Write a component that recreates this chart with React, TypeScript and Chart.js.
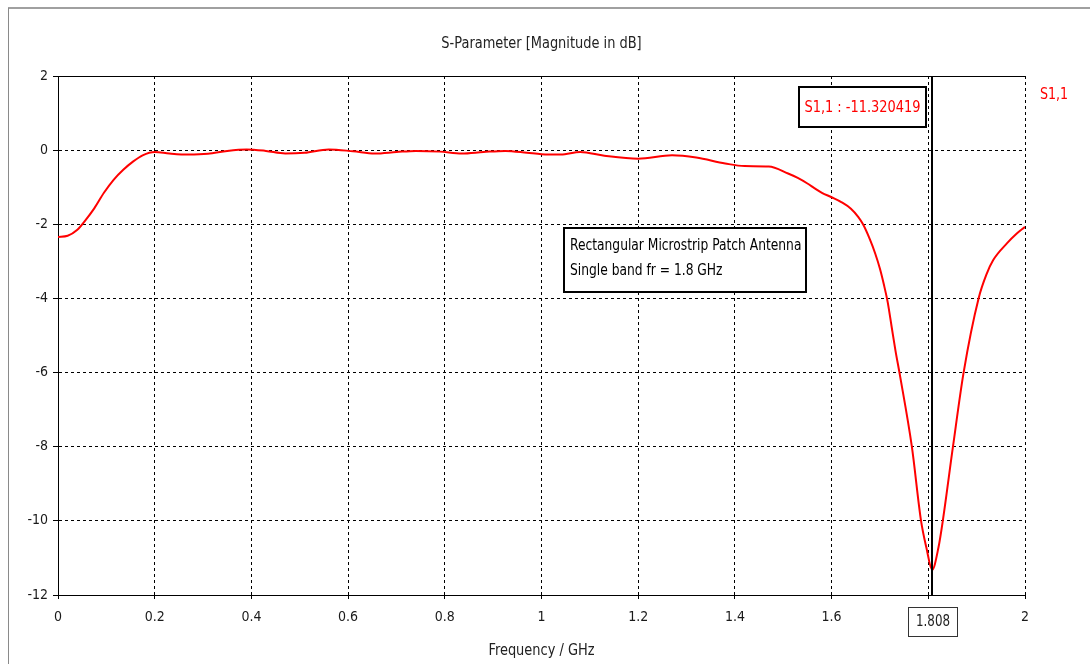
import { useEffect, useRef } from 'react';
import { Chart, registerables } from 'chart.js';

Chart.register(...registerables);

// ---- data ----
const freqGHz = [
  0, 0.02, 0.04, 0.055, 0.075, 0.095, 0.115, 0.135, 0.155, 0.175,
  0.2, 0.23, 0.27, 0.31, 0.35, 0.39, 0.43, 0.47, 0.51, 0.56,
  0.61, 0.655, 0.7, 0.74, 0.79, 0.835, 0.88, 0.925, 0.97, 1.0,
  1.04, 1.08, 1.13, 1.2, 1.27, 1.32, 1.38, 1.42, 1.47, 1.51,
  1.53, 1.55, 1.565, 1.58, 1.6, 1.62, 1.64, 1.655, 1.665, 1.679,
  1.69, 1.7, 1.708, 1.716, 1.724, 1.732, 1.741, 1.766, 1.785, 1.796,
  1.808, 1.821, 1.83, 1.851, 1.873, 1.904, 1.921, 1.934, 1.963, 1.983, 2.0,
];
const s11dB = [
  -2.34, -2.31, -2.15, -1.92, -1.57, -1.15, -0.8, -0.53, -0.31, -0.14,
  -0.05, -0.09, -0.12, -0.1, -0.02, 0.02, -0.02, -0.09, -0.07, 0.02,
  -0.03, -0.09, -0.05, -0.02, -0.04, -0.09, -0.05, -0.02, -0.07, -0.11,
  -0.12, -0.05, -0.15, -0.23, -0.14, -0.2, -0.36, -0.43, -0.44, -0.63,
  -0.75, -0.9, -1.03, -1.15, -1.27, -1.4, -1.58, -1.8, -2.0, -2.4,
  -2.78, -3.2, -3.62, -4.1, -4.75, -5.4, -6.05, -8.0, -10.0, -10.72,
  -11.32, -10.72, -10.0, -8.0, -6.0, -4.0, -3.33, -2.97, -2.51, -2.25, -2.07,
];
const xTicks = [0, 0.2, 0.4, 0.6, 0.8, 1, 1.2, 1.4, 1.6, 1.8, 2];
const yTicks = [2, 0, -2, -4, -6, -8, -10, -12];
const markerFreq = 1.808;
const markerValue = -11.320419;
const seriesName = 'S1,1';
const chartTitle = 'S-Parameter [Magnitude in dB]';
const xAxisTitle = 'Frequency / GHz';
const noteLines = ['Rectangular Microstrip Patch Antenna', 'Single band fr = 1.8 GHz'];

const FONT = "'Liberation Sans Narrow', 'DejaVu Sans Condensed', 'Arial Narrow', sans-serif";
const RED = '#ff0000';

function drawText(ctx: CanvasRenderingContext2D, text: string, x: number, y: number, align: CanvasTextAlign, size: number, color: string, sx = 0.9) {
  ctx.save();
  ctx.translate(x, y);
  ctx.scale(sx, 1);
  ctx.font = `${size}px ${FONT}`;
  ctx.fillStyle = color;
  ctx.textAlign = align;
  ctx.textBaseline = 'middle';
  ctx.fillText(text, 0, 0);
  ctx.restore();
}

const decorPlugin = {
  id: 'decor',
  beforeDraw(chart: any) {
    const { ctx, width, height } = chart;
    ctx.save();
    ctx.fillStyle = '#ffffff';
    ctx.fillRect(0, 0, width, height);
    ctx.strokeStyle = '#a0a0a0';
    ctx.lineWidth = 2;
    ctx.beginPath();
    ctx.moveTo(8, 8);
    ctx.lineTo(width, 8);
    ctx.stroke();
    ctx.strokeStyle = '#8a8a8a';
    ctx.lineWidth = 1;
    ctx.beginPath();
    ctx.moveTo(8.5, 8);
    ctx.lineTo(8.5, height);
    ctx.stroke();
    ctx.restore();
  },
  afterDraw(chart: any) {
    const { ctx, chartArea } = chart;
    const xs = chart.scales.x;
    const ys = chart.scales.y;
    const cx = (chartArea.left + chartArea.right) / 2;
    ctx.save();
    drawText(ctx, chartTitle, cx, 44, 'center', 16, '#222');
    drawText(ctx, xAxisTitle, cx, 651, 'center', 16, '#222');
    // top solid border
    ctx.strokeStyle = '#000';
    ctx.lineWidth = 1;
    ctx.beginPath();
    ctx.moveTo(chartArea.left, chartArea.top + 0.5);
    ctx.lineTo(chartArea.right, chartArea.top + 0.5);
    ctx.stroke();
    // legend
    drawText(ctx, seriesName, chartArea.right + 15, 95, 'left', 16, RED, 0.88);

    // marker line
    const mx = Math.round(xs.getPixelForValue(markerFreq));
    ctx.strokeStyle = '#000';
    ctx.lineWidth = 2;
    ctx.beginPath();
    ctx.moveTo(mx, chartArea.top);
    ctx.lineTo(mx, chartArea.bottom);
    ctx.stroke();

    // marker label box
    const bw = 127, bh = 40;
    const bx = mx - 6 - bw, by = chartArea.top + 11;
    ctx.fillStyle = '#fff';
    ctx.fillRect(bx, by, bw, bh);
    ctx.strokeStyle = '#000';
    ctx.lineWidth = 2;
    ctx.strokeRect(bx, by, bw, bh);
    drawText(ctx, `${seriesName} : ${markerValue.toFixed(6)}`, bx + bw / 2, by + bh / 2 + 1, 'center', 16, RED, 0.9);

    // x marker tick box
    const tw = 49, th = 29;
    const tx = mx - 24, ty = chartArea.bottom + 12;
    ctx.fillStyle = '#fff';
    ctx.fillRect(tx, ty, tw, th);
    ctx.strokeStyle = '#333';
    ctx.lineWidth = 1;
    ctx.strokeRect(tx + 0.5, ty + 0.5, tw, th);
    drawText(ctx, String(markerFreq), tx + tw / 2 + 0.5, ty + th / 2 + 1, 'center', 15, '#222', 0.88);

    // note box
    const nx = Math.round(xs.getPixelForValue(1.047));
    const ny = Math.round(ys.getPixelForValue(-2.1));
    const nw = 242, nh = 64;
    ctx.fillStyle = '#fff';
    ctx.fillRect(nx, ny, nw, nh);
    ctx.strokeStyle = '#000';
    ctx.lineWidth = 2;
    ctx.strokeRect(nx, ny, nw, nh);
    drawText(ctx, noteLines[0], nx + 6, ny + 18, 'left', 15, '#000', 0.91);
    drawText(ctx, noteLines[1], nx + 6, ny + 43, 'left', 15, '#000', 0.91);
    ctx.restore();
  },
};

export default function App() {
  const ref = useRef<HTMLCanvasElement | null>(null);
  useEffect(() => {
    document.body.style.margin = '0';
    const canvas = ref.current;
    if (!canvas) return;
    Chart.defaults.font.family = FONT;
    const chart = new Chart(canvas, {
      type: 'line',
      data: {
        datasets: [
          {
            label: seriesName,
            data: freqGHz.map((f, i) => ({ x: f, y: s11dB[i] })),
            borderColor: RED,
            borderWidth: 2,
            pointRadius: 0,
            cubicInterpolationMode: 'monotone',
            fill: false,
          },
        ],
      },
      options: {
        responsive: false,
        animation: false,
        layout: { padding: { top: 76, right: 65, left: 0, bottom: 0 } },
        plugins: { legend: { display: false }, tooltip: { enabled: false }, title: { display: false } },
        scales: {
          x: {
            type: 'linear',
            min: 0,
            max: 2,
            afterBuildTicks: (s: any) => {
              s.ticks = xTicks.map((v) => ({ value: v }));
            },
            afterFit: (s: any) => {
              s.height = 69;
            },
            ticks: {
              color: '#1a1a1a',
              font: { size: 14 },
              padding: 10,
              maxRotation: 0,
              autoSkip: false,
              callback: (v: any) => (Math.abs(Number(v) - 1.8) < 1e-6 ? '' : String(Number(Number(v).toFixed(1)))),
            },
            grid: {
              color: '#000',
              lineWidth: 1,
              drawTicks: true,
              tickLength: 4,
              tickBorderDash: [],
              tickColor: '#000',
            },
            border: { display: true, color: '#000', width: 1, dash: [3, 3] },
          },
          y: {
            type: 'linear',
            min: -12,
            max: 2,
            afterBuildTicks: (s: any) => {
              s.ticks = yTicks.map((v) => ({ value: v }));
            },
            afterFit: (s: any) => {
              s.width = 58;
            },
            ticks: {
              color: '#1a1a1a',
              font: { size: 14 },
              padding: 5,
              autoSkip: false,
              callback: (v: any) => String(v),
            },
            grid: {
              color: '#000',
              lineWidth: 1,
              drawTicks: true,
              tickLength: 5,
              tickBorderDash: [],
              tickColor: '#000',
            },
            border: { display: true, color: '#000', width: 1, dash: [3, 3] },
          },
        },
      },
      plugins: [decorPlugin],
    } as any);
    return () => chart.destroy();
  }, []);
  return (
    <canvas
      ref={ref}
      width={1090}
      height={664}
      style={{ display: 'block', width: 1090, height: 664 }}
    />
  );
}
